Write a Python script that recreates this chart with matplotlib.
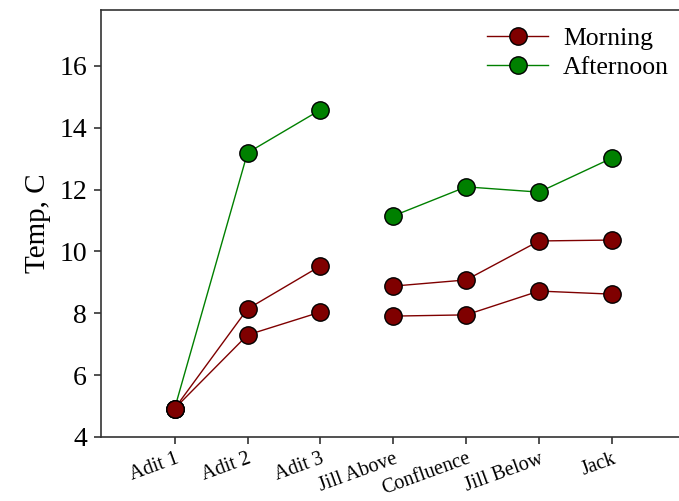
import matplotlib
matplotlib.use("Agg")
import matplotlib.pyplot as plt
import numpy as np

sites = ["Adit 1", "Adit 2", "Adit 3", "Jill Above", "Confluence", "Jill Below", "Jack"]
morning_a = [4.92, 8.14, 9.53, 8.88, 9.08, 10.34, 10.37]
morning_b = [4.92, 7.30, 8.04, 7.91, 7.95, 8.72, 8.62]
afternoon = [4.92, 13.19, 14.58, 11.15, 12.09, 11.92, 13.02]
yticks = [4, 6, 8, 10, 12, 14, 16]

plt.rcParams['font.family'] = ['Liberation Serif', 'DejaVu Serif']

fig = plt.figure(figsize=(6.79, 5.01), dpi=100)
ax = fig.add_axes([101/679, 1-437/501, 1-101/679, 427/501])

x = np.arange(len(sites))
groups = [slice(0, 3), slice(3, 7)]
red = '#7f0000'
green = '#008000'
mk = dict(marker='o', markersize=12.5, markeredgecolor='black', markeredgewidth=1.0, linewidth=1.0)

for g in groups:
    ax.plot(x[g], np.array(afternoon)[g], color=green, markerfacecolor=green, zorder=2, **mk)
for g in groups:
    ax.plot(x[g], np.array(morning_a)[g], color=red, markerfacecolor=red, zorder=3, **mk)
    ax.plot(x[g], np.array(morning_b)[g], color=red, markerfacecolor=red, zorder=3, **mk)

h1, = ax.plot([], [], color=red, markerfacecolor=red, **mk)
h2, = ax.plot([], [], color=green, markerfacecolor=green, **mk)
ax.legend([h1, h2], ["Morning", "Afternoon"], loc='upper right', frameon=False,
          fontsize=18.5, handlelength=2.35, handletextpad=0.6, borderaxespad=0.25,
          labelspacing=0.25, bbox_to_anchor=(1.012, 1.0))

ax.set_xlim(-1.01, 6.92)
ax.set_ylim(4, 17.81)
ax.set_yticks(yticks)
ax.set_yticklabels([str(v) for v in yticks], fontsize=20)
ax.set_xticks(x)
ax.set_xticklabels(sites, fontsize=14.5, rotation=20, ha='right', va='top', rotation_mode='anchor')
ax.set_ylabel("Temp, C", fontsize=21, labelpad=6)
ax.tick_params(axis='both', direction='out', length=5, width=1.2, color='#333333')
ax.tick_params(axis='x', pad=4)
ax.tick_params(axis='y', pad=5)
for s in ['left', 'bottom', 'top']:
    ax.spines[s].set_linewidth(1.2)
    ax.spines[s].set_color('#333333')
ax.spines['right'].set_visible(False)

fig.savefig("out.png", dpi=100)
